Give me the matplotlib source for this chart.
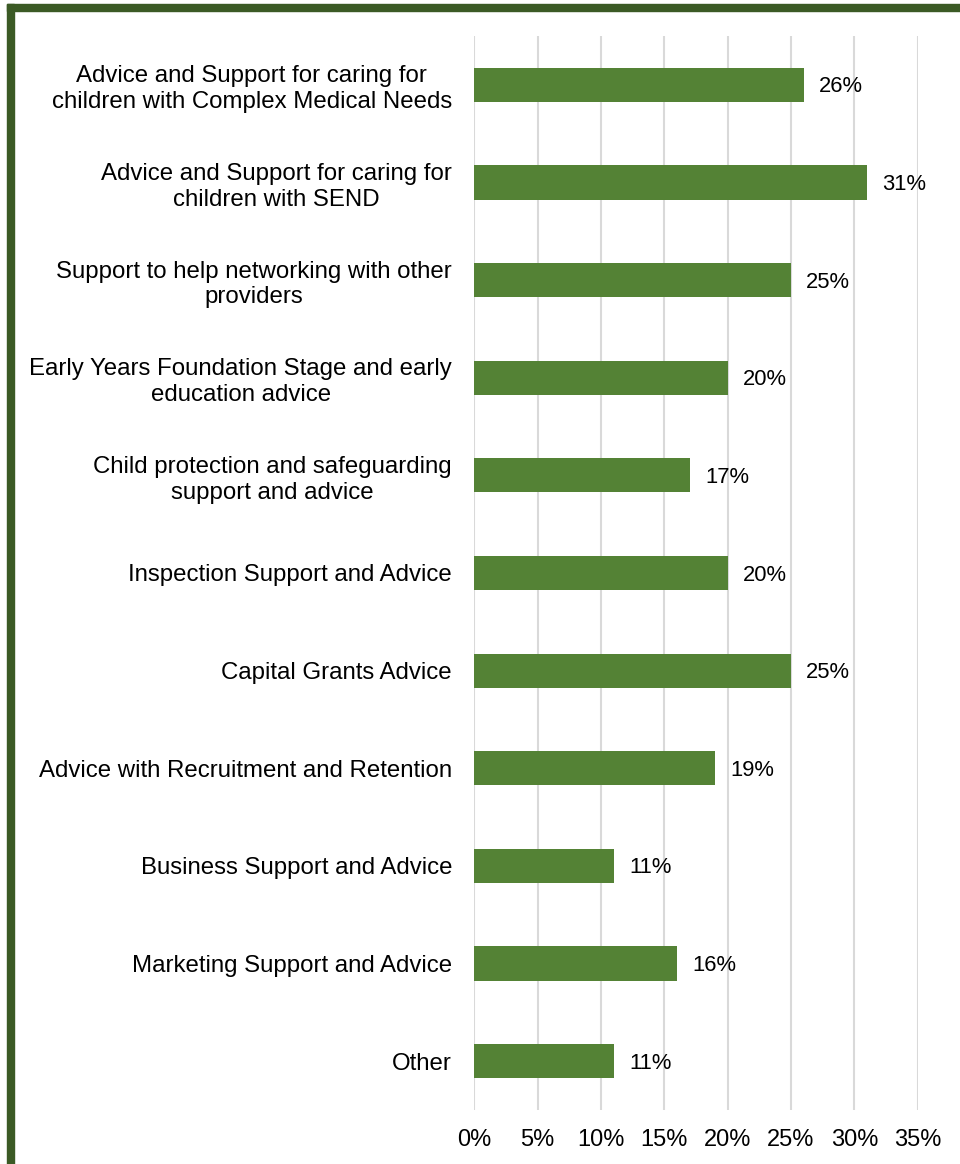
import matplotlib.pyplot as plt
from matplotlib.patches import Rectangle

# Survey: support wanted by providers (share of respondents)
categories = [
    "Advice and Support for caring for\nchildren with Complex Medical Needs",
    "Advice and Support for caring for\nchildren with SEND",
    "Support to help networking with other\nproviders",
    "Early Years Foundation Stage and early\neducation advice",
    "Child protection and safeguarding\nsupport and advice",
    "Inspection Support and Advice",
    "Capital Grants Advice",
    "Advice with Recruitment and Retention",
    "Business Support and Advice",
    "Marketing Support and Advice",
    "Other",
]
percent = [26, 31, 25, 20, 17, 20, 25, 19, 11, 16, 11]
x_ticks = [0, 5, 10, 15, 20, 25, 30, 35]

plt.rcParams["font.family"] = ["Liberation Sans", "DejaVu Sans"]

fig = plt.figure(figsize=(9.6, 11.64), dpi=100)
ax = fig.add_axes([0.494, 0.0464, 0.462, 0.9227])

pos = list(range(len(categories)))
ax.barh(pos, percent, height=0.35, color="#548235", zorder=3)
for y, v in zip(pos, percent):
    ax.annotate(f"{v}%", (v, y), xytext=(11, -1.5), textcoords="offset points",
                va="center", ha="left", fontsize=15.8, color="#000000", zorder=4)

ax.set_xlim(0, 35)
ax.set_ylim(len(categories) - 0.5, -0.5)
ax.set_xticks(x_ticks)
ax.set_xticklabels([f"{t}%" for t in x_ticks])
ax.set_yticks(pos)
ax.set_yticklabels(categories, fontsize=17.3, linespacing=1.22,
                   ha="right", multialignment="center")
ax.tick_params(axis="y", length=0, pad=16)
ax.tick_params(axis="x", length=0, pad=14, labelsize=17)
ax.grid(axis="x", color="#d9d9d9", linewidth=1.5, zorder=0)
for s in ax.spines.values():
    s.set_visible(False)

# green frame along the top and left edge
frame = "#3b5a25"
fig.patches.append(Rectangle((7 / 960, 1 - 10.7 / 1164), 1, 6.7 / 1164,
                             transform=fig.transFigure, color=frame, zorder=5))
fig.patches.append(Rectangle((7 / 960, 0), 7 / 960, 1 - 4 / 1164,
                             transform=fig.transFigure, color=frame, zorder=5))

fig.savefig("out.png", dpi=100)
